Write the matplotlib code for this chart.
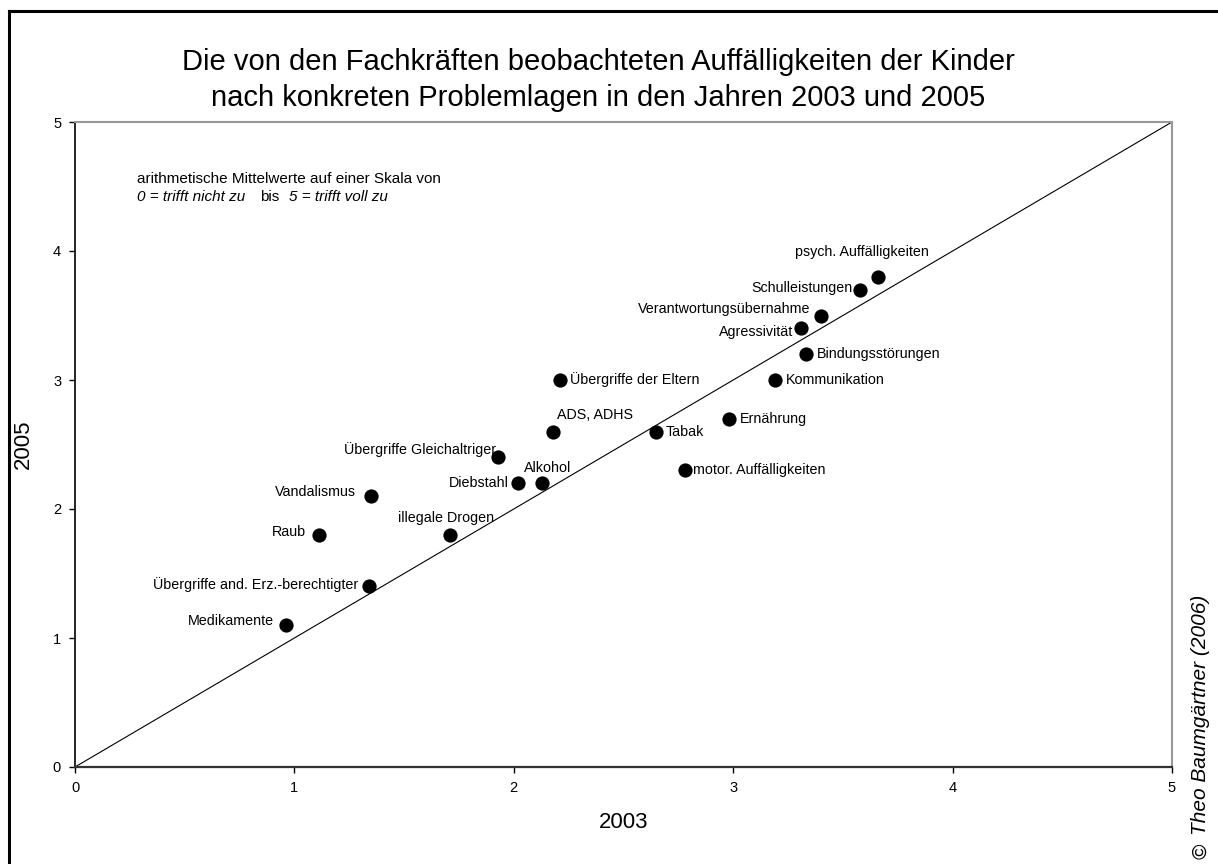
import matplotlib
matplotlib.use("Agg")
import matplotlib.pyplot as plt
from matplotlib.lines import Line2D

plt.rcParams['font.family'] = ['Liberation Sans', 'DejaVu Sans']

labels = ["psych. Auffälligkeiten", "Schulleistungen", "Verantwortungsübernahme",
          "Agressivität", "Bindungsstörungen", "Kommunikation", "Ernährung", "Tabak",
          "motor. Auffälligkeiten", "Übergriffe der Eltern", "ADS, ADHS",
          "Übergriffe Gleichaltriger", "Alkohol", "Diebstahl", "Vandalismus", "Raub",
          "illegale Drogen", "Übergriffe and. Erz.-berechtigter", "Medikamente"]
x2003 = [3.66, 3.58, 3.40, 3.31, 3.33, 3.19, 2.98, 2.65, 2.78, 2.21, 2.18,
         1.93, 2.13, 2.02, 1.35, 1.11, 1.71, 1.34, 0.96]
y2005 = [3.8, 3.7, 3.5, 3.4, 3.2, 3.0, 2.7, 2.6, 2.3, 3.0, 2.6,
         2.4, 2.2, 2.2, 2.1, 1.8, 1.8, 1.4, 1.1]
ticks = [0, 1, 2, 3, 4, 5]

# label placement (offset in pixels, horizontal alignment)
label_style = [(-16, 25, 'center'), (-8, 2, 'right'), (-11, 7, 'right'),
               (-8, -4, 'right'), (11, 0, 'left'), (11, 0, 'left'), (11, 0, 'left'),
               (9, 0, 'left'), (8, 0, 'left'), (10, 0, 'left'), (4, 17, 'left'),
               (-2, 8, 'right'), (5, 15, 'center'), (-9, 0, 'right'), (-15, 4, 'right'),
               (-13, 3, 'right'), (-4, 17, 'center'), (-11, 2, 'right'), (-12, 4, 'right')]

fig = plt.figure(figsize=(12.18, 8.64), dpi=100)
ax = fig.add_axes([75/1218, 1-767/864, (1172-75)/1218, (767-122)/864])

ax.plot([0, 5], [0, 5], color='black', lw=0.8, zorder=2)
ax.scatter(x2003, y2005, s=105, color='black', zorder=3, linewidths=0)

for lab, xv, yv, (dx, dy, ha) in zip(labels, x2003, y2005, label_style):
    ax.annotate(lab, (xv, yv), xytext=(dx, dy), textcoords='offset pixels',
                ha=ha, va='center', fontsize=10.3, color='black')

ax.set_xlim(0, 5)
ax.set_ylim(0, 5)
ax.set_xticks(ticks)
ax.set_yticks(ticks)
ax.set_xticklabels([str(t) for t in ticks])
ax.set_yticklabels([str(t) for t in ticks])
ax.tick_params(direction='out', length=4, width=1, labelsize=10.5, pad=6)
for s in ['top', 'right']:
    ax.spines[s].set_color('#999999')
    ax.spines[s].set_linewidth(1.5)
ax.spines['left'].set_color('black')
ax.spines['left'].set_linewidth(1.2)
ax.spines['bottom'].set_color('#333333')
ax.spines['bottom'].set_linewidth(1.6)

ax.set_xlabel("2003", fontsize=16, labelpad=12)
ax.set_ylabel("2005", fontsize=16, labelpad=14)

fig.text(598/1218, 1-62/864, "Die von den Fachkräften beobachteten Auffälligkeiten der Kinder",
         ha='center', va='center', fontsize=21)
fig.text(598/1218, 1-98/864, "nach konkreten Problemlagen in den Jahren 2003 und 2005",
         ha='center', va='center', fontsize=21)

fig.text(137/1218, 1-179/864, "arithmetische Mittelwerte auf einer Skala von",
         ha='left', va='center', fontsize=11)
fig.text(137/1218, 1-197/864, "0 = trifft nicht zu", ha='left', va='center',
         fontsize=11, style='italic')
fig.text(260/1218, 1-197/864, "bis", ha='left', va='center', fontsize=11)
fig.text(289/1218, 1-197/864, "5 = trifft voll zu", ha='left', va='center',
         fontsize=11, style='italic')

fig.text(1201/1218, 1-859/864, "©", rotation=90, ha='center', va='bottom', fontsize=15)
fig.text(1201/1218, 1-835/864, "Theo Baumgärtner (2006)", rotation=90, ha='center',
         va='bottom', fontsize=15, style='italic')

# outer frame (left and top edges)
fig.add_artist(Line2D([9/1218, 9/1218], [0, 1-11/864], color='black', lw=2.2,
                      transform=fig.transFigure))
fig.add_artist(Line2D([9/1218, 1], [1-11/864, 1-11/864], color='black', lw=2.2,
                      transform=fig.transFigure))

fig.savefig("out.png", dpi=100, facecolor='white')
